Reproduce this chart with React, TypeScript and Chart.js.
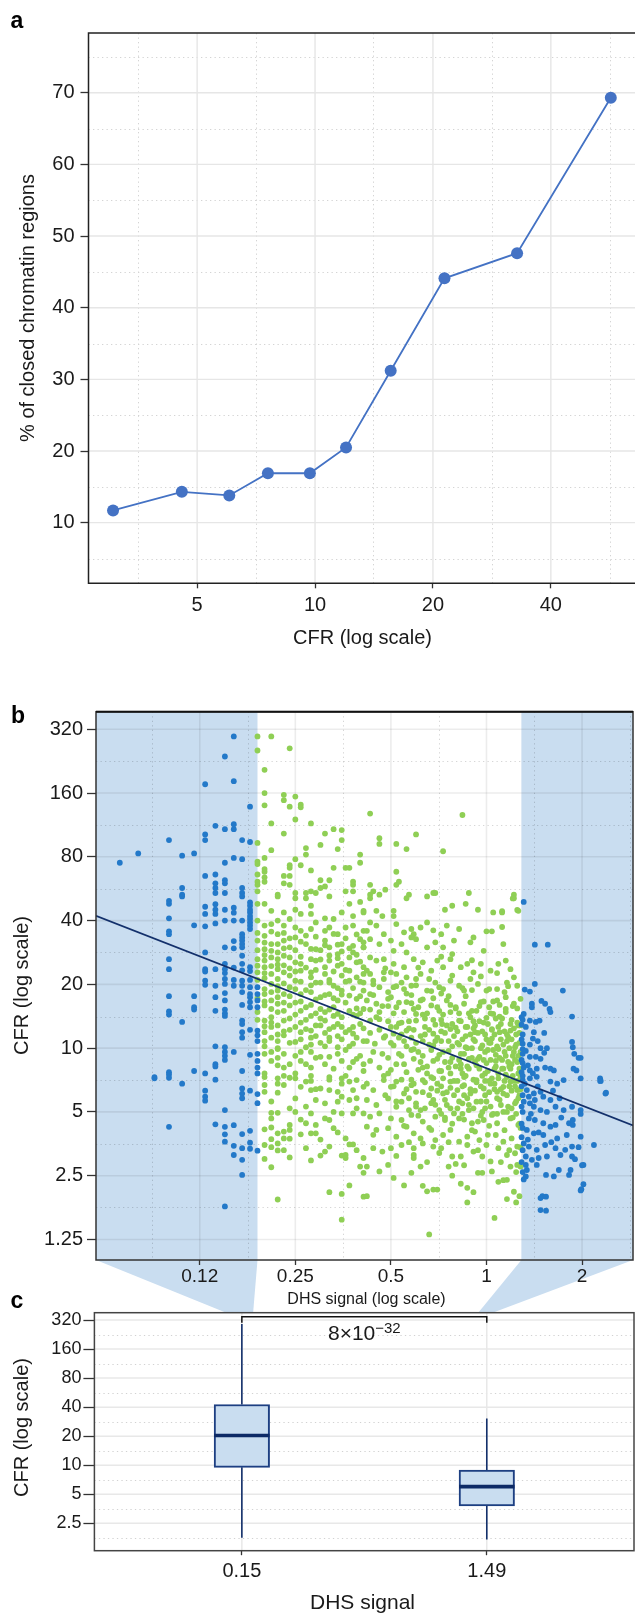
import React, { useEffect, useRef } from 'react';
import { Chart, registerables } from 'chart.js';
Chart.register(...registerables);

if (typeof document !== 'undefined') document.body.style.margin = '0';

const FONT = "'Liberation Sans', Arial, Helvetica, sans-serif";
const TXT = '#1a1a1a';
const NAVY = '#13306b';
const BLUE = '#2379c9';
const GREEN = '#8fcf55';
const SHADE = '#c9ddf0';

// ---------- Panel a ----------
const cfrBins = [3.05, 4.57, 6.04, 7.58, 9.7, 12.0, 15.6, 21.4, 32.8, 56.9];
const closedPct = [11.7, 14.3, 13.8, 16.9, 16.9, 20.5, 31.2, 44.1, 47.6, 69.3];
const aTicksX = [5, 10, 20, 40];
const aTicksY = [10, 20, 30, 40, 50, 60, 70];
const aMinorX = [3.54, 7.07, 14.1, 28.3, 56.6];
const aMinorY = [5, 15, 25, 35, 45, 55, 65, 75];
const aRangeX = [2.64, 65.6];
const aRangeY = [1.54, 78.33];

// ---------- Panel b ----------
const bTicksX = [0.125, 0.25, 0.5, 1, 2];
const bTickLabelsX = ['0.12', '0.25', '0.5', '1', '2'];
const bTicksY = [1.25, 2.5, 5, 10, 20, 40, 80, 160, 320];
const bMinorX = [0.0884, 0.177, 0.354, 0.707, 1.414, 2.83];
const bMinorY = [1.77, 3.54, 7.07, 14.1, 28.3, 56.6, 113, 226];
const bRangeX = [0.0589, 2.894];
const bRangeY = [1.0, 387.3];
const lowSignalMax = 0.19;
const highSignalMin = 1.288;
const fitLineDHS = [0.0589, 2.894];
const fitLineCFR = [42.1, 4.32];

const lowSignalPoints: [number, number][] = [
  [0.16, 296], [0.15, 238], [0.13, 176], [0.16, 182], [0.18, 138], [0.14, 112], [0.15, 108], [0.16, 114], [0.16, 108],
  [0.13, 102], [0.13, 96], [0.10, 96], [0.17, 96], [0.18, 94], [0.08, 83], [0.07, 75], [0.11, 81], [0.12, 83], [0.15, 75],
  [0.16, 79], [0.17, 78], [0.13, 65], [0.14, 66], [0.15, 62], [0.15, 60], [0.14, 60], [0.14, 57], [0.14, 54], [0.11, 57],
  [0.11, 53], [0.17, 57], [0.17, 54], [0.15, 54],
  [0.11, 52], [0.10, 49.6], [0.10, 48], [0.13, 46.5], [0.13, 43], [0.14, 47.8], [0.14, 45], [0.14, 43], [0.15, 45],
  [0.16, 46], [0.16, 43.6],
  [0.17, 52], [0.17, 40], [0.17, 34.5], [0.17, 33.3], [0.17, 32.2], [0.17, 31], [0.17, 29.9], [0.17, 27.3], [0.17, 25],
  [0.17, 23.3], [0.17, 20.8], [0.17, 19.7], [0.17, 18.4], [0.17, 16], [0.17, 13.5], [0.17, 13], [0.17, 11.9], [0.17, 11.2], [0.17, 7.8],
  [0.18, 48.7], [0.18, 47], [0.18, 45], [0.18, 43.7], [0.18, 42], [0.18, 40.7], [0.18, 39.2], [0.18, 37.9], [0.18, 36.5],
  [0.18, 24.1], [0.18, 23.1], [0.18, 21], [0.18, 19.4], [0.18, 18], [0.18, 17.4], [0.18, 16.5], [0.18, 15.6], [0.18, 12.2], [0.18, 9.3],
  [0.19, 19.4], [0.19, 18], [0.19, 16.8], [0.19, 15.6], [0.19, 12.1], [0.19, 11.5], [0.19, 10.8], [0.19, 9.4], [0.19, 8.7],
  [0.19, 8.1], [0.19, 7.6],
  [0.10, 41], [0.12, 38], [0.13, 37.6], [0.14, 38.8], [0.15, 40], [0.16, 40], [0.10, 35.6], [0.10, 34.5], [0.16, 32],
  [0.16, 29.6], [0.15, 29.9], [0.13, 28.3], [0.10, 26.3], [0.10, 23.6], [0.13, 23.6], [0.13, 23], [0.14, 23.6], [0.15, 25],
  [0.15, 23.6], [0.15, 22.6], [0.16, 24], [0.13, 20.8], [0.13, 19.9], [0.14, 19.7], [0.15, 21.2], [0.15, 20.1], [0.16, 21],
  [0.16, 19.7], [0.10, 17.6], [0.12, 17.6], [0.14, 17.4], [0.15, 18.2], [0.15, 16.8], [0.12, 15.6], [0.12, 15.2], [0.10, 14.9],
  [0.10, 14.4], [0.14, 15], [0.15, 15.2], [0.15, 14.6], [0.15, 14.2], [0.11, 13.3], [0.14, 10.2], [0.15, 10.1], [0.15, 9.6],
  [0.15, 9.2], [0.15, 8.8], [0.16, 9.6], [0.14, 8.4], [0.14, 8.2], [0.12, 7.8], [0.13, 7.6], [0.10, 7.7], [0.10, 7.5], [0.09, 7.3],
  [0.09, 7.2], [0.10, 7.25], [0.11, 6.8], [0.14, 7.1], [0.13, 6.3], [0.13, 5.9], [0.13, 5.65], [0.17, 6.45], [0.17, 6.1],
  [0.17, 5.8], [0.18, 6.3], [0.19, 6.07], [0.19, 5.5], [0.15, 5.1], [0.10, 4.25], [0.14, 4.37], [0.15, 4.25], [0.15, 3.92],
  [0.15, 3.62], [0.16, 4.33], [0.17, 3.93], [0.18, 4.07], [0.16, 3.46], [0.17, 3.37], [0.18, 3.58], [0.18, 3.35], [0.19, 3.28],
  [0.16, 3.13], [0.17, 2.97], [0.17, 2.52], [0.15, 1.79],
];

const highSignalPoints: [number, number][] = [
  [1.31, 49], [1.42, 30.8], [1.56, 30.8], [1.42, 20.1], [1.32, 18.9], [1.37, 18.5], [1.74, 18.7], [1.39, 16.2], [1.39, 15.6],
  [1.49, 16.7], [1.53, 16.2], [1.58, 15.3], [1.59, 14.8], [1.86, 14.1], [1.31, 14.5], [1.30, 13.6], [1.37, 13.5], [1.43, 13.3],
  [1.47, 13.5], [1.33, 12.6], [1.41, 11.9], [1.52, 11.8], [1.30, 10.5], [1.37, 10.4], [1.48, 10.0], [1.55, 10.0], [1.86, 10.7],
  [1.87, 10.1], [1.30, 9.4], [1.37, 9.1], [1.43, 9.1], [1.48, 8.9], [1.95, 9.0], [1.98, 9.0], [1.89, 9.4], [1.31, 8.1],
  [1.37, 7.85], [1.44, 8.0], [1.53, 8.1], [1.59, 8.0], [1.63, 7.85], [1.88, 8.0], [1.92, 7.85], [2.28, 7.2],
  [1.30, 7.07], [1.37, 7.2], [1.44, 7.32], [1.59, 6.95], [1.67, 6.8], [1.75, 7.07], [1.98, 7.2], [2.28, 7.0], [2.38, 6.16],
  [1.34, 6.34], [1.41, 6.11], [1.48, 6.22], [1.42, 5.69], [1.51, 5.9], [1.59, 5.69], [1.31, 5.59], [1.37, 5.49], [1.41, 5.29],
  [1.48, 5.1], [1.55, 5.0], [1.65, 5.29], [1.75, 5.1], [1.86, 5.29], [1.98, 5.1], [1.98, 4.89], [1.36, 4.66], [1.42, 4.58],
  [1.51, 4.42], [1.59, 4.26], [1.65, 4.34], [1.82, 4.42], [1.87, 4.58], [1.87, 4.34], [1.34, 4.11], [1.41, 3.96], [1.51, 3.89],
  [1.67, 3.75], [1.79, 3.89], [1.98, 3.82], [2.18, 3.49], [1.31, 3.55], [1.36, 3.43], [1.44, 3.31], [1.53, 3.49], [1.65, 3.37],
  [1.77, 3.31], [1.86, 3.43], [1.95, 3.41], [1.33, 3.08], [1.39, 2.97], [1.46, 3.03], [1.55, 3.08], [1.71, 3.13], [1.86, 3.08],
  [1.90, 2.99], [2.02, 2.81], [1.33, 2.81], [1.34, 2.66], [1.44, 2.81], [1.69, 2.66], [1.84, 2.66], [1.33, 2.48], [1.54, 2.52],
  [1.63, 2.48], [1.82, 2.52], [2.02, 2.28], [1.98, 2.13], [1.50, 2.0], [1.48, 1.96], [1.54, 1.71], [2.29, 7.0], [2.37, 6.1],
  [2.0, 2.8], [1.99, 2.16], [1.54, 1.99], [1.48, 1.72],
  [1.29, 14.0], [1.29, 12.9], [1.30, 11.6], [1.29, 11.0], [1.30, 9.9], [1.29, 8.8], [1.30, 8.5], [1.29, 7.7], [1.30, 7.4],
  [1.29, 6.6], [1.30, 6.0], [1.29, 5.3], [1.30, 5.0], [1.29, 4.4], [1.30, 4.2], [1.29, 3.8], [1.30, 3.3], [1.29, 2.9],
  [1.30, 2.6], [1.31, 2.4], [1.32, 6.8], [1.33, 9.7], [1.35, 8.3], [1.36, 5.9], [1.40, 7.6], [1.45, 6.6], [1.38, 4.9],
  [1.46, 4.0], [1.52, 9.5], [1.62, 6.3], [1.70, 5.8], [1.72, 4.7], [1.60, 3.6], [1.40, 11.1], [1.45, 10.8], [1.35, 3.7],
];

const midSignalUpper: [number, number][] = [
  [0.19, 296], [0.21, 296], [0.24, 260], [0.19, 254], [0.20, 206], [0.20, 160], [0.23, 157], [0.23, 148], [0.25, 154],
  [0.20, 140], [0.24, 138], [0.26, 141], [0.26, 137], [0.25, 120], [0.21, 115], [0.28, 115], [0.23, 103], [0.31, 103],
  [0.33, 108], [0.35, 107], [0.35, 96], [0.19, 93], [0.27, 88], [0.30, 91], [0.34, 87], [0.21, 86], [0.27, 82], [0.25, 78],
  [0.20, 79], [0.19, 76], [0.19, 74], [0.40, 82], [0.40, 75], [0.24, 73], [0.24, 71], [0.26, 73], [0.33, 71], [0.36, 71],
  [0.37, 71], [0.28, 69], [0.20, 70], [0.20, 68], [0.19, 66], [0.23, 65], [0.24, 65], [0.20, 64], [0.20, 61], [0.19, 61],
  [0.19, 59], [0.23, 60], [0.24, 59], [0.30, 62], [0.32, 62], [0.38, 61], [0.38, 59], [0.36, 55], [0.19, 55], [0.22, 53],
  [0.25, 54], [0.27, 54], [0.28, 55], [0.29, 54], [0.30, 57], [0.31, 58], [0.38, 55],
  [0.43, 128], [0.46, 98], [0.46, 92], [0.52, 92], [0.56, 87], [0.60, 102], [0.73, 85], [0.84, 126], [0.52, 68], [0.52, 59],
  [0.53, 61], [0.43, 59], [0.44, 55], [0.48, 56], [0.46, 53], [0.43, 53], [0.57, 53], [0.68, 54], [0.69, 54], [0.88, 54],
  [1.22, 53], [1.12, 44.3], [1.21, 50.9], [1.25, 44.9],
];

const midSignalLeft: [number, number][] = [
  [0.22, 52], [0.25, 51], [0.27, 51], [0.32, 52], [0.37, 48], [0.40, 49], [0.19, 48], [0.20, 48], [0.21, 44.5], [0.23, 43.7],
  [0.25, 45], [0.26, 43], [0.28, 43], [0.28, 47], [0.31, 41], [0.33, 40.7], [0.35, 43.7], [0.38, 42], [0.41, 43.7],
  [0.19, 40], [0.20, 37.9], [0.21, 38.5], [0.22, 40], [0.23, 37.9], [0.24, 40.7], [0.25, 37.1], [0.26, 35.8], [0.28, 36.5],
  [0.29, 39.2], [0.31, 35.8], [0.32, 37.1], [0.34, 34.5], [0.36, 37.1], [0.38, 37.9], [0.41, 35.8], [0.22, 34.5], [0.20, 33.9],
  [0.19, 32.2], [0.21, 31], [0.23, 32.2], [0.24, 29.9], [0.25, 33.3], [0.27, 31], [0.29, 29.3], [0.31, 32.2], [0.32, 29.9],
  [0.34, 27.8], [0.35, 31], [0.38, 28.3], [0.40, 32.7], [0.41, 29.9], [0.20, 29.3], [0.22, 28.3],
  [0.19, 26.3], [0.20, 25.9], [0.21, 26.8], [0.22, 26.3], [0.23, 27.3], [0.24, 26.8], [0.25, 25.4], [0.26, 25], [0.28, 26.3],
  [0.29, 25.9], [0.31, 24.1], [0.32, 25.9], [0.34, 24.5], [0.35, 25], [0.37, 26.8], [0.39, 25.4], [0.41, 24.1], [0.22, 23.6], [0.20, 24.1],
  [0.19, 22.8], [0.21, 22.4], [0.22, 21.2], [0.23, 22.8], [0.24, 22], [0.25, 20.8], [0.26, 23.2], [0.28, 21.6], [0.29, 20.4],
  [0.31, 22.4], [0.32, 20.4], [0.33, 19.7], [0.35, 22], [0.37, 20.8], [0.39, 21.6], [0.41, 22.4], [0.21, 20.1],
  [0.20, 19], [0.20, 18], [0.22, 18.7], [0.22, 17.4], [0.23, 18], [0.25, 19], [0.26, 18], [0.28, 18.4], [0.30, 17.4], [0.32, 18],
  [0.34, 16.8], [0.35, 18.7], [0.37, 17.7], [0.39, 17.1], [0.41, 18.7], [0.21, 16.8],
  [0.20, 15.9], [0.21, 15.3], [0.22, 16.2], [0.23, 15], [0.24, 15.9], [0.26, 15], [0.27, 15.6], [0.28, 14.2], [0.30, 15.3],
  [0.31, 14.8], [0.33, 15.6], [0.34, 14.5], [0.37, 15], [0.39, 14.2], [0.41, 15.3], [0.19, 14.8],
  [0.20, 13.5], [0.21, 12.6], [0.22, 12.8], [0.23, 13.5], [0.25, 12.6], [0.26, 13.2], [0.28, 12.1], [0.29, 12.8], [0.31, 13.5],
  [0.32, 12.3], [0.34, 13], [0.36, 11.9], [0.38, 12.6], [0.40, 13], [0.20, 11.9],
  [0.20, 10.8], [0.21, 11.2], [0.22, 10.8], [0.23, 11.5], [0.24, 10.6], [0.26, 11], [0.27, 10.1], [0.28, 11.2], [0.30, 10.6],
  [0.32, 10.8], [0.34, 10.1], [0.35, 11], [0.38, 10.5], [0.41, 10.8], [0.22, 9.9],
  [0.20, 9.4], [0.21, 8.7], [0.22, 9.0], [0.23, 8.1], [0.25, 9.2], [0.26, 8.7], [0.28, 8.1], [0.29, 9.0], [0.31, 8.4], [0.33, 8.0],
  [0.35, 8.7], [0.37, 8.1], [0.39, 8.9], [0.41, 8.4], [0.20, 7.6], [0.23, 7.4], [0.25, 7.6], [0.28, 7.4], [0.32, 7.3], [0.36, 7.4],
  [0.21, 14.0], [0.23, 12.0], [0.25, 16.4], [0.27, 13.6], [0.29, 17.0], [0.31, 11.8], [0.33, 14.2], [0.35, 17.9], [0.37, 12.2],
  [0.39, 15.4], [0.22, 10.0], [0.24, 8.4], [0.26, 11.9], [0.28, 9.6], [0.30, 12.8], [0.32, 9.1], [0.34, 11.4], [0.36, 9.8],
  [0.38, 11.7], [0.40, 9.2], [0.20, 21.4], [0.22, 24.8], [0.24, 19.4], [0.26, 27.0], [0.28, 22.8], [0.30, 29.0], [0.32, 21.0],
  [0.34, 26.6], [0.36, 23.4], [0.38, 30.4], [0.40, 20.6],
  [0.19, 35], [0.19, 29], [0.19, 24.5], [0.19, 21], [0.19, 17.2], [0.19, 13.6], [0.20, 31.5], [0.20, 27.5], [0.20, 22.6],
  [0.20, 16.6], [0.20, 12.7], [0.20, 10.2], [0.21, 35.5], [0.21, 28.8], [0.21, 24.4], [0.21, 18.4], [0.21, 13.2], [0.21, 9.6],
  [0.22, 31], [0.22, 19.6], [0.22, 14.8], [0.22, 11.6], [0.22, 8.3], [0.23, 35], [0.23, 29.6], [0.23, 24.6], [0.23, 20.2],
  [0.23, 16.4], [0.23, 9.4], [0.24, 33], [0.24, 23.8], [0.24, 17.6], [0.24, 13.8], [0.24, 12.2], [0.25, 29], [0.25, 23],
  [0.25, 14.4], [0.25, 10.7], [0.26, 31.8], [0.26, 20.6], [0.26, 16.6], [0.26, 9.6], [0.27, 34], [0.27, 24], [0.27, 18.8],
  [0.27, 12.3], [0.27, 8.4], [0.28, 29.4], [0.28, 19.8], [0.28, 16], [0.28, 10.4], [0.29, 33.6], [0.29, 23.4], [0.29, 14.6],
  [0.29, 11.4], [0.30, 26.2], [0.30, 20.4], [0.30, 13.8], [0.30, 9.1], [0.31, 30.6], [0.31, 17.8], [0.31, 10.2], [0.32, 27.4],
  [0.32, 15.2], [0.32, 11.2], [0.33, 34.6], [0.33, 23], [0.33, 17.2], [0.33, 12.6], [0.34, 30.8], [0.34, 19.2], [0.34, 9.4],
  [0.35, 28.6], [0.35, 14.0], [0.35, 12.6], [0.36, 33], [0.36, 20.6], [0.36, 16.4], [0.37, 29.6], [0.37, 23.2], [0.37, 10.2],
  [0.38, 19.2], [0.38, 14.4], [0.38, 8.6], [0.39, 34.4], [0.39, 27.6], [0.39, 11.2], [0.40, 25.6], [0.40, 17.6], [0.40, 14.6],
  [0.41, 31.6], [0.41, 20.4], [0.41, 12.4],
];

const midSignalRight: [number, number][] = [
  [0.41, 44.5], [0.43, 51], [0.45, 44.5], [0.51, 44.5], [0.51, 42], [0.56, 51], [0.65, 52], [0.74, 45], [0.78, 47], [0.86, 48],
  [0.94, 45], [1.05, 43.7], [1.12, 43.7], [1.22, 51], [1.26, 44.5], [0.47, 42], [0.43, 39.2], [0.45, 37.9], [0.52, 38.5],
  [0.58, 36.5], [0.62, 37.1], [0.65, 39.2], [0.68, 36], [0.75, 37.9], [0.82, 36.5], [1.00, 35.6], [1.04, 35.6], [1.12, 37.3],
  [0.42, 35.8], [0.475, 34.5], [0.55, 35.2], [0.59, 34.5], [0.72, 34.5], [0.43, 32.7], [0.46, 31], [0.50, 32.2], [0.54, 31],
  [0.58, 33.3], [0.60, 32.7], [0.65, 29.9], [0.69, 31.6], [0.73, 29.9], [0.79, 32.2], [0.89, 31.6], [0.91, 33.3], [0.98, 28.8],
  [1.13, 31], [0.41, 29.9], [0.51, 28.8], [0.56, 28.3], [0.78, 27.8], [0.43, 26.8], [0.45, 25.9], [0.475, 26.3], [0.51, 25],
  [0.55, 24.1], [0.59, 26.3], [0.63, 25.4], [0.67, 23.2], [0.70, 25.9], [0.73, 24.1], [0.77, 26.3], [0.83, 24.1], [0.87, 25],
  [0.91, 22.8], [0.96, 25], [1.03, 23.2], [1.09, 25], [1.15, 25.9], [1.19, 23.6], [0.42, 23.2], [0.475, 22.8], [0.52, 22.4],
  [0.62, 22.4], [0.44, 20.8], [0.475, 21.2], [0.51, 19.4], [0.54, 20.4], [0.58, 19.7], [0.60, 21.2], [0.65, 18.7], [0.69, 20.4],
  [0.73, 19], [0.77, 20.8], [0.82, 19.7], [0.85, 18.7], [0.89, 21.2], [0.94, 20.1], [1.00, 18.7], [1.08, 19], [1.16, 20.4],
  [1.25, 19.7], [0.43, 18], [0.49, 18.4], [0.56, 18.1], [0.72, 18.1], [0.42, 16.8], [0.45, 16.2], [0.49, 17.1], [0.52, 15.6],
  [0.56, 16.5], [0.59, 15.3], [0.62, 16.8], [0.67, 15.9], [0.71, 15], [0.75, 16.8], [0.80, 15.6], [0.85, 16.2], [0.90, 15],
  [0.96, 16.5], [1.02, 15.6], [1.08, 16.8], [1.15, 15.3], [1.22, 16.2], [1.28, 17.1], [0.46, 14.8], [0.60, 14.5], [0.77, 14.8],
  [1.05, 14.5], [0.43, 13.5], [0.46, 13.7], [0.50, 12.6], [0.54, 13.2], [0.56, 12.1], [0.60, 13.5], [0.64, 12.6], [0.68, 11.7],
  [0.725, 13], [0.77, 12.3], [0.82, 13.5], [0.87, 12.6], [0.92, 11.9], [0.98, 13.2], [1.04, 12.3], [1.11, 13], [1.19, 12.1],
  [1.26, 12.8], [0.51, 11.7], [0.89, 14], [0.42, 10.8], [0.445, 10.5], [0.475, 11.2], [0.51, 10.3], [0.55, 10.8], [0.59, 9.9],
  [0.63, 10.8], [0.68, 10.3], [0.72, 10.8], [0.76, 9.7], [0.81, 10.6], [0.86, 10.1], [0.91, 11], [0.97, 10.3], [1.03, 10.6],
  [1.09, 9.9], [1.16, 10.8], [1.23, 10.1], [1.28, 9.6], [0.58, 11.2], [0.43, 8.7], [0.46, 8.1], [0.49, 9.0], [0.52, 8.4],
  [0.56, 7.7], [0.59, 8.9], [0.63, 8.1], [0.68, 8.7], [0.72, 7.8], [0.77, 8.6], [0.83, 8.0], [0.88, 8.9], [0.93, 8.3], [0.99, 7.6],
  [1.07, 8.7], [1.13, 8.0], [1.20, 8.4], [1.26, 7.6], [0.475, 7.4], [0.67, 7.3], [0.85, 7.3], [1.16, 7.3],
];

const midSignalLower: [number, number][] = [
  [0.20, 7.3], [0.22, 7.2], [0.24, 7.25], [0.25, 7.2], [0.27, 6.95], [0.28, 7.0], [0.32, 7.1], [0.35, 7.2], [0.37, 6.95],
  [0.39, 7.07], [0.20, 6.7], [0.22, 6.8], [0.26, 6.57], [0.28, 6.34], [0.30, 6.45], [0.32, 6.34], [0.34, 6.22], [0.35, 5.9],
  [0.38, 6.34], [0.41, 6.57], [0.20, 6.22], [0.22, 6.16], [0.25, 5.79], [0.29, 5.69], [0.31, 5.49], [0.34, 5.59], [0.37, 5.69],
  [0.39, 5.2], [0.38, 4.92], [0.35, 4.92], [0.41, 4.92], [0.21, 4.95], [0.22, 4.95], [0.24, 5.2], [0.25, 5.0], [0.28, 4.92],
  [0.21, 4.66], [0.27, 4.42], [0.29, 4.34], [0.31, 4.66], [0.32, 4.58], [0.33, 4.19], [0.24, 4.34], [0.23, 4.04], [0.22, 3.96],
  [0.24, 4.11], [0.20, 4.14], [0.21, 4.22], [0.26, 3.92], [0.28, 3.96], [0.29, 3.96], [0.23, 3.75], [0.24, 3.74], [0.36, 3.75],
  [0.37, 3.51], [0.38, 3.51], [0.21, 3.72], [0.20, 3.49], [0.22, 3.55], [0.21, 3.41], [0.22, 3.29], [0.27, 3.37], [0.30, 3.11],
  [0.31, 3.25], [0.32, 3.43], [0.35, 3.11], [0.36, 3.13], [0.36, 3.03], [0.24, 3.05], [0.28, 2.95], [0.41, 3.03], [0.40, 2.76],
  [0.21, 2.74], [0.32, 2.09], [0.35, 2.05], [0.37, 2.25], [0.41, 1.99], [0.22, 1.93], [0.35, 1.55],
  [0.42, 6.8], [0.44, 6.34], [0.475, 7.07], [0.50, 6.57], [0.52, 6.95], [0.55, 6.11], [0.58, 6.69], [0.60, 6.22], [0.63, 7.07],
  [0.67, 6.45], [0.70, 6.8], [0.73, 6.11], [0.77, 6.95], [0.81, 6.34], [0.85, 6.69], [0.89, 6.11], [0.93, 7.07], [0.98, 6.45],
  [1.03, 6.8], [1.08, 6.22], [1.13, 6.57], [1.19, 6.95], [1.25, 6.34], [0.42, 5.69], [0.45, 5.39], [0.49, 5.79], [0.52, 5.29],
  [0.54, 5.59], [0.57, 5.10], [0.60, 5.49], [0.64, 5.2], [0.68, 5.69], [0.71, 5.10], [0.75, 5.39], [0.79, 4.92], [0.84, 5.49],
  [0.88, 5.10], [0.93, 5.59], [0.99, 5.2], [1.04, 4.84], [1.11, 5.39], [1.16, 5.0], [1.23, 5.49], [0.43, 4.75], [0.46, 4.92],
  [0.50, 4.66], [0.54, 4.58], [0.58, 4.84], [0.63, 4.5], [0.69, 4.75], [0.74, 4.58], [0.82, 4.66], [0.90, 4.42], [0.98, 4.58],
  [1.08, 4.42], [1.19, 4.66], [1.26, 4.34], [0.42, 4.26], [0.45, 4.11], [0.49, 4.19], [0.52, 3.82], [0.56, 4.26], [0.59, 3.96],
  [0.62, 3.75], [0.67, 4.11], [0.69, 3.68], [0.73, 3.89], [0.77, 4.11], [0.82, 3.62], [0.87, 3.82], [0.92, 4.04], [0.95, 3.68],
  [1.00, 3.49], [1.07, 3.89], [1.13, 3.62], [1.20, 3.75], [1.25, 3.43], [0.44, 3.37], [0.47, 3.25], [0.50, 3.37], [0.54, 3.49],
  [0.59, 3.37], [0.63, 3.55], [0.68, 3.43], [0.72, 3.37], [0.78, 3.08], [0.83, 3.08], [0.87, 3.49], [0.91, 3.25], [0.97, 3.08],
  [1.03, 2.92], [1.09, 3.37], [1.16, 3.13], [1.23, 3.19], [0.42, 2.76], [0.46, 2.62], [0.49, 2.81], [0.51, 2.44], [0.55, 2.25],
  [0.58, 2.58], [0.59, 3.13], [0.59, 3.03], [0.62, 2.76], [0.63, 2.24], [0.65, 2.11], [0.68, 2.15], [0.70, 2.15], [0.76, 2.76],
  [0.78, 2.5], [0.80, 2.84], [0.83, 2.29], [0.87, 2.19], [0.91, 2.09], [0.94, 2.58], [0.97, 2.58], [1.04, 2.62], [1.09, 2.34],
  [1.13, 2.38], [1.16, 2.39], [1.19, 2.76], [1.25, 2.81], [1.28, 2.76], [0.42, 2.0], [0.41, 2.58], [0.87, 1.87], [1.16, 1.94],
  [1.24, 1.87], [1.06, 1.58], [0.66, 1.32], [1.27, 2.0], [1.22, 2.1],
  [0.20, 3.0], [0.23, 3.3], [0.26, 4.6], [0.30, 3.7], [0.34, 4.0], [0.39, 3.3], [0.44, 3.9], [0.52, 3.1], [0.57, 3.6],
  [0.65, 2.9], [0.71, 3.2], [0.76, 3.6], [0.85, 2.8], [0.94, 3.3], [1.01, 3.9], [1.11, 2.9], [1.18, 3.3], [1.24, 2.6],
];

const midSignalCore: [number, number][] = [
  [0.53, 11.2], [0.57, 12.4], [0.61, 9.6], [0.64, 13.8], [0.66, 10.4], [0.69, 12.9], [0.71, 9.3], [0.74, 11.8], [0.78, 10.2],
  [0.80, 12.5], [0.83, 9.4], [0.86, 11.4], [0.90, 10.0], [0.92, 12.8], [0.95, 9.1], [0.99, 11.6], [1.01, 9.8], [1.04, 11.1],
  [1.07, 9.3], [1.10, 11.9], [1.14, 9.6], [1.17, 11.3], [1.21, 9.2], [1.24, 11.6], [1.27, 10.6],
  [0.50, 7.9], [0.54, 9.2], [0.58, 7.1], [0.62, 8.6], [0.65, 7.6], [0.70, 8.9], [0.73, 7.2], [0.76, 8.1], [0.79, 7.0],
  [0.82, 8.8], [0.84, 7.6], [0.87, 8.2], [0.91, 7.1], [0.94, 8.9], [0.97, 7.4], [1.00, 8.5], [1.02, 7.0], [1.06, 8.0],
  [1.09, 7.2], [1.12, 8.8], [1.15, 7.5], [1.18, 8.2], [1.22, 7.0], [1.25, 8.6], [1.28, 7.3],
  [0.48, 6.0], [0.52, 5.6], [0.56, 6.4], [0.60, 5.3], [0.63, 6.2], [0.67, 5.5], [0.70, 6.3], [0.74, 5.7], [0.77, 6.5],
  [0.81, 5.2], [0.85, 6.0], [0.88, 5.4], [0.92, 6.3], [0.96, 5.6], [0.99, 6.0], [1.03, 5.3], [1.06, 6.4], [1.10, 5.7],
  [1.13, 6.1], [1.17, 5.3], [1.20, 6.3], [1.24, 5.6], [1.27, 6.0],
  [0.55, 4.3], [0.61, 4.8], [0.66, 4.2], [0.72, 4.9], [0.78, 4.4], [0.84, 4.9], [0.90, 4.1], [0.96, 4.8], [1.02, 4.3],
  [1.08, 4.9], [1.14, 4.1], [1.21, 4.7], [1.27, 4.4],
  [0.45, 14.0], [0.49, 15.8], [0.53, 13.1], [0.58, 16.3], [0.63, 14.4], [0.68, 17.2], [0.72, 13.6], [0.77, 16.0], [0.82, 14.6],
  [0.86, 17.6], [0.91, 13.4], [0.95, 15.8], [1.00, 13.9], [1.05, 16.6], [1.10, 14.1], [1.15, 17.4], [1.20, 13.6], [1.25, 15.4],
  [0.44, 20.0], [0.50, 22.8], [0.55, 19.0], [0.61, 24.0], [0.66, 21.2], [0.72, 27.0], [0.78, 22.0], [0.84, 19.2], [0.90, 26.0],
  [0.96, 21.8], [1.02, 19.0], [1.08, 22.6], [1.14, 18.4], [1.22, 21.6],
  [0.21, 5.6], [0.23, 6.7], [0.27, 5.3], [0.29, 6.4], [0.33, 5.0], [0.35, 6.8], [0.39, 5.8], [0.41, 7.8],
  [0.43, 22.4], [0.43, 15.2], [0.43, 11.8], [0.44, 9.6], [0.44, 17.8], [0.46, 19.4], [0.46, 12.2], [0.47, 9.4], [0.47, 15.8],
  [0.48, 23.8], [0.48, 11.4], [0.49, 13.4], [0.49, 7.6], [0.50, 17.4], [0.50, 10.6], [0.51, 14.6], [0.51, 6.6], [0.52, 19.6],
  [0.52, 12.6], [0.53, 9.4], [0.53, 16.4], [0.54, 7.1], [0.54, 11.6], [0.55, 14.8], [0.55, 8.4], [0.56, 21.6], [0.56, 10.2],
  [0.57, 13.4], [0.57, 5.8], [0.58, 9.8], [0.58, 17.8], [0.59, 12.2], [0.59, 6.8], [0.60, 10.6], [0.60, 19.8], [0.61, 15.6],
  [0.61, 7.9], [0.62, 11.4], [0.62, 5.1], [0.63, 17.0], [0.63, 9.2], [0.64, 6.9], [0.64, 11.6], [0.65, 14.6], [0.65, 8.2],
  [0.66, 12.2], [0.66, 6.0], [0.67, 18.6], [0.67, 9.8], [0.68, 13.6], [0.68, 7.2], [0.69, 10.8], [0.69, 5.4], [0.70, 15.6],
  [0.70, 11.2], [0.71, 7.8], [0.71, 19.4], [0.72, 12.0], [0.72, 6.6], [0.73, 9.6], [0.73, 14.4], [0.74, 8.6], [0.74, 4.7],
  [0.75, 12.8], [0.75, 6.2], [0.76, 10.8], [0.76, 17.6], [0.77, 7.6], [0.77, 5.2], [0.78, 13.0], [0.78, 9.0], [0.79, 11.4],
  [0.79, 6.0], [0.80, 8.2], [0.80, 15.4], [0.81, 12.0], [0.81, 7.0], [0.82, 10.4], [0.82, 5.6], [0.83, 13.4], [0.83, 8.4],
  [0.84, 11.0], [0.84, 6.6], [0.85, 9.4], [0.85, 4.6], [0.86, 12.6], [0.86, 7.4], [0.87, 10.0], [0.87, 5.8], [0.88, 14.6],
  [0.88, 8.0], [0.89, 11.6], [0.89, 6.4], [0.90, 9.0], [0.90, 18.8], [0.91, 12.4], [0.91, 5.2], [0.92, 8.6], [0.92, 10.8],
  [0.93, 6.9], [0.93, 15.0], [0.94, 11.8], [0.94, 4.5], [0.95, 8.0], [0.95, 13.4], [0.96, 10.0], [0.96, 6.6], [0.97, 12.0],
  [0.97, 5.0], [0.98, 8.8], [0.98, 16.6], [0.99, 9.6], [0.99, 7.0], [1.00, 11.0], [1.00, 5.6], [1.01, 13.0], [1.01, 7.8],
  [1.02, 10.6], [1.02, 6.2], [1.03, 8.8], [1.03, 14.6], [1.04, 7.2], [1.04, 12.2], [1.05, 9.8], [1.05, 4.9], [1.06, 11.6],
  [1.06, 6.8], [1.07, 13.8], [1.07, 8.2], [1.08, 10.2], [1.08, 5.8], [1.09, 12.6], [1.09, 7.6], [1.10, 9.0], [1.10, 16.0],
  [1.11, 6.4], [1.11, 11.0], [1.12, 8.0], [1.12, 13.8], [1.13, 10.4], [1.13, 5.0], [1.14, 12.0], [1.14, 7.0], [1.15, 9.2],
  [1.15, 14.8], [1.16, 6.0], [1.16, 11.6], [1.17, 8.6], [1.17, 19.6], [1.18, 10.0], [1.18, 6.6], [1.19, 13.0], [1.19, 8.0],
  [1.20, 11.0], [1.20, 5.2], [1.21, 7.4], [1.21, 15.8], [1.22, 9.6], [1.22, 12.4], [1.23, 6.6], [1.23, 8.8], [1.24, 10.4],
  [1.24, 4.9], [1.25, 13.2], [1.25, 7.0], [1.26, 9.2], [1.26, 5.8], [1.27, 11.8], [1.27, 8.0], [1.28, 6.4], [1.28, 12.8],
  [1.28, 4.2], [1.28, 3.4],
];

// ---------- Panel c ----------
const boxLabels = ['0.15', '1.49'];
const boxWhiskerLow = [1.77, 1.7];
const boxQ1 = [9.5, 3.78];
const boxMedian = [20.3, 6.0];
const boxQ3 = [42.6, 8.9];
const boxWhiskerHigh = [291, 30.5];
const cTicksY = [2.5, 5, 10, 20, 40, 80, 160, 320];
const cMinorY = [1.77, 3.54, 7.07, 14.1, 28.3, 56.6, 113, 226];
const cRangeY = [1.3, 381];
const cRangeX = [0.398, 2.601];
const pValueBase = '8\u00d710';
const pValueExp = '\u221232';

function gridPlugin(id: string, xMaj: number[], xMin: number[], yMaj: number[], yMin: number[], major: string, minor: string, majorWidth: number) {
  return {
    id,
    beforeDatasetsDraw(chart: any) {
      const { ctx, chartArea: a, scales } = chart;
      const xs = scales.x, ys = scales.y;
      ctx.save();
      ctx.beginPath();
      ctx.rect(a.left, a.top, a.right - a.left, a.bottom - a.top);
      ctx.clip();
      ctx.lineWidth = 1;
      ctx.strokeStyle = minor;
      ctx.setLineDash([1.3, 3.2]);
      for (const v of xMin) {
        const p = Math.round(xs.getPixelForValue(v)) + 0.5;
        ctx.beginPath(); ctx.moveTo(p, a.top); ctx.lineTo(p, a.bottom); ctx.stroke();
      }
      for (const v of yMin) {
        const p = Math.round(ys.getPixelForValue(v)) + 0.5;
        ctx.beginPath(); ctx.moveTo(a.left, p); ctx.lineTo(a.right, p); ctx.stroke();
      }
      ctx.setLineDash([]);
      ctx.strokeStyle = major;
      ctx.lineWidth = majorWidth;
      for (const v of xMaj) {
        const p = xs.getPixelForValue(v);
        ctx.beginPath(); ctx.moveTo(p, a.top); ctx.lineTo(p, a.bottom); ctx.stroke();
      }
      for (const v of yMaj) {
        const p = ys.getPixelForValue(v);
        ctx.beginPath(); ctx.moveTo(a.left, p); ctx.lineTo(a.right, p); ctx.stroke();
      }
      ctx.restore();
    },
  };
}

function drawText(ctx: CanvasRenderingContext2D, text: string, x: number, y: number, size: number, opts: { rotate?: boolean; bold?: boolean; align?: CanvasTextAlign } = {}) {
  ctx.save();
  ctx.font = `${opts.bold ? 'bold ' : ''}${size}px ${FONT}`;
  ctx.fillStyle = opts.bold ? '#000' : TXT;
  ctx.textAlign = opts.align || 'center';
  ctx.textBaseline = 'middle';
  ctx.translate(x, y);
  if (opts.rotate) ctx.rotate(-Math.PI / 2);
  ctx.fillText(text, 0, 0);
  ctx.restore();
}

function tickFont(size: number) {
  return { family: FONT, size };
}

function makeA(canvas: HTMLCanvasElement) {
  const H = 660;
  return new Chart(canvas, {
    type: 'line',
    data: {
      datasets: [{
        data: cfrBins.map((x, i) => ({ x, y: closedPct[i] })),
        borderColor: '#4472c4',
        backgroundColor: '#4472c4',
        pointBackgroundColor: '#4472c4',
        pointBorderWidth: 0,
        pointRadius: 6,
        borderWidth: 1.8,
        tension: 0,
      }],
    },
    options: {
      animation: false, responsive: false, devicePixelRatio: 1, events: [],
      layout: { autoPadding: false, padding: { left: 0, right: 0, top: 33, bottom: 0 } },
      plugins: { legend: { display: false }, tooltip: { enabled: false } },
      scales: {
        x: {
          type: 'logarithmic', min: aRangeX[0], max: aRangeX[1],
          afterBuildTicks: (s: any) => { s.ticks = aTicksX.map((v) => ({ value: v })); },
          afterFit: (s: any) => { s.height = H - 583.3; },
          ticks: { callback: (v: any) => String(v), font: tickFont(20), color: TXT, padding: 5.5, maxRotation: 0, autoSkip: false },
          grid: { drawOnChartArea: false, drawTicks: true, tickLength: 5, tickColor: '#333', tickWidth: 1.3 },
          border: { display: false },
        },
        y: {
          type: 'linear', min: aRangeY[0], max: aRangeY[1],
          afterBuildTicks: (s: any) => { s.ticks = aTicksY.map((v) => ({ value: v })); },
          afterFit: (s: any) => { s.width = 88.5; },
          ticks: { callback: (v: any) => String(v), font: tickFont(20), color: TXT, padding: 6, autoSkip: false },
          grid: { drawOnChartArea: false, drawTicks: true, tickLength: 8, tickColor: '#333', tickWidth: 1.3 },
          border: { display: false },
        },
      },
    } as any,
    plugins: [
      gridPlugin('gridA', aTicksX, aMinorX, aTicksY, aMinorY, '#e6e6e6', '#d4d4d4', 1.4),
      {
        id: 'frameA',
        afterDraw(chart: any) {
          const { ctx, chartArea: a } = chart;
          ctx.save();
          ctx.lineWidth = 1.5;
          ctx.strokeStyle = '#222';
          ctx.beginPath();
          ctx.moveTo(a.right + 2, a.top); ctx.lineTo(a.left, a.top); ctx.lineTo(a.left, a.bottom); ctx.lineTo(a.right + 2, a.bottom);
          ctx.stroke();
          ctx.restore();
          drawText(ctx, '% of closed chromatin regions', 28.4, 308, 20, { rotate: true });
          drawText(ctx, 'CFR (log scale)', 362.5, 638, 20);
          drawText(ctx, 'a', 17, 22, 23, { bold: true });
        },
      },
    ],
  });
}

function makeB(canvas: HTMLCanvasElement) {
  const H = 623;
  const wedgeLeftBottom = [226.8, 253.1];
  const wedgeRightBottom = [478, 492];
  const mid = [...midSignalUpper, ...midSignalLeft, ...midSignalRight, ...midSignalLower, ...midSignalCore];
  const pt = (arr: [number, number][]) => arr.map(([x, y]) => ({ x, y }));
  const R = 2.9;
  return new Chart(canvas, {
    type: 'scatter',
    data: {
      datasets: [
        { data: fitLineDHS.map((x, i) => ({ x, y: fitLineCFR[i] })), showLine: true, borderColor: NAVY, borderWidth: 1.8, pointRadius: 0, order: 0 },
        { data: pt(lowSignalPoints), pointRadius: R, pointBorderWidth: 0, backgroundColor: BLUE, pointBackgroundColor: BLUE, order: 1 },
        { data: pt(highSignalPoints), pointRadius: R, pointBorderWidth: 0, backgroundColor: BLUE, pointBackgroundColor: BLUE, order: 1 },
        { data: pt(mid), pointRadius: R, pointBorderWidth: 0, backgroundColor: GREEN, pointBackgroundColor: GREEN, order: 2 },
      ],
    },
    options: {
      animation: false, responsive: false, devicePixelRatio: 1, events: [],
      layout: { autoPadding: false, padding: { left: 0, right: 2, top: 21.7, bottom: 0 } },
      plugins: { legend: { display: false }, tooltip: { enabled: false } },
      scales: {
        x: {
          type: 'logarithmic', min: bRangeX[0], max: bRangeX[1],
          afterBuildTicks: (s: any) => { s.ticks = bTicksX.map((v) => ({ value: v })); },
          afterFit: (s: any) => { s.height = H - 570; },
          ticks: { callback: (v: any, i: number) => bTickLabelsX[i], font: tickFont(19), color: TXT, padding: 0.5, maxRotation: 0, autoSkip: false },
          grid: { drawOnChartArea: false, drawTicks: true, tickLength: 5, tickColor: '#333', tickWidth: 1.3 },
          border: { display: false },
        },
        y: {
          type: 'logarithmic', min: bRangeY[0], max: bRangeY[1],
          afterBuildTicks: (s: any) => { s.ticks = bTicksY.map((v) => ({ value: v })); },
          afterFit: (s: any) => { s.width = 96; },
          ticks: { callback: (v: any) => String(v), font: tickFont(20), color: TXT, padding: 4, autoSkip: false },
          grid: { drawOnChartArea: false, drawTicks: true, tickLength: 9, tickColor: '#333', tickWidth: 1.3 },
          border: { display: false },
        },
      },
    } as any,
    plugins: [
      {
        id: 'shadeB',
        beforeDraw(chart: any) {
          const { ctx, chartArea: a, scales } = chart;
          const xs = scales.x;
          const xl = xs.getPixelForValue(lowSignalMax);
          const xh = xs.getPixelForValue(highSignalMin);
          ctx.save();
          ctx.fillStyle = SHADE;
          ctx.fillRect(a.left, a.top, xl - a.left, a.bottom - a.top);
          ctx.fillRect(xh, a.top, a.right - xh, a.bottom - a.top);
          ctx.beginPath();
          ctx.moveTo(a.left, a.bottom); ctx.lineTo(xl, a.bottom);
          ctx.lineTo(wedgeLeftBottom[1], H); ctx.lineTo(wedgeLeftBottom[0], H); ctx.closePath();
          ctx.fill();
          ctx.beginPath();
          ctx.moveTo(xh, a.bottom); ctx.lineTo(a.right, a.bottom);
          ctx.lineTo(wedgeRightBottom[1], H); ctx.lineTo(wedgeRightBottom[0], H); ctx.closePath();
          ctx.fill();
          ctx.restore();
        },
      },
      gridPlugin('gridB', bTicksX, bMinorX, bTicksY, bMinorY, 'rgba(0,0,0,0.075)', 'rgba(0,0,0,0.16)', 1.6),
      {
        id: 'frameB',
        afterDraw(chart: any) {
          const { ctx, chartArea: a } = chart;
          ctx.save();
          ctx.lineWidth = 1.5;
          ctx.strokeStyle = '#333';
          ctx.strokeRect(a.left, a.top, a.right - a.left, a.bottom - a.top);
          ctx.lineWidth = 2;
          ctx.strokeStyle = '#111';
          ctx.beginPath(); ctx.moveTo(a.left, a.top); ctx.lineTo(a.right, a.top); ctx.stroke();
          ctx.restore();
          drawText(ctx, 'CFR (log scale)', 22.3, 295.5, 20, { rotate: true });
          drawText(ctx, 'DHS signal (log scale)', 366.5, 610, 16);
          drawText(ctx, 'b', 18, 27, 23, { bold: true });
        },
      },
    ],
  });
}

function makeC(canvas: HTMLCanvasElement) {
  const H = 324;
  return new Chart(canvas, {
    type: 'bar',
    data: {
      datasets: [{
        data: boxQ1.map((q1, i) => ({ x: i + 1, y: [q1, boxQ3[i]] })),
        backgroundColor: SHADE,
        borderColor: '#1d3f82',
        borderWidth: 2,
        borderSkipped: false,
        barThickness: 55.5,
      }],
    },
    options: {
      animation: false, responsive: false, devicePixelRatio: 1, events: [],
      layout: { autoPadding: false, padding: { left: 0, right: 1, top: 22.7, bottom: 0 } },
      plugins: { legend: { display: false }, tooltip: { enabled: false } },
      scales: {
        x: {
          type: 'linear', min: cRangeX[0], max: cRangeX[1], offset: false,
          afterBuildTicks: (s: any) => { s.ticks = boxLabels.map((_, i) => ({ value: i + 1 })); },
          afterFit: (s: any) => { s.height = H - 260.7; },
          ticks: { callback: (v: any) => boxLabels[Math.round(v) - 1], font: tickFont(20), color: TXT, padding: 4.5, maxRotation: 0, autoSkip: false },
          grid: { offset: false, drawOnChartArea: false, drawTicks: true, tickLength: 4.5, tickColor: '#333', tickWidth: 1.3 },
          border: { display: false },
        },
        y: {
          type: 'logarithmic', min: cRangeY[0], max: cRangeY[1],
          afterBuildTicks: (s: any) => { s.ticks = cTicksY.map((v) => ({ value: v })); },
          afterFit: (s: any) => { s.width = 94.4; },
          ticks: { callback: (v: any) => String(v), font: tickFont(18), color: TXT, padding: 2, autoSkip: false },
          grid: { drawOnChartArea: false, drawTicks: true, tickLength: 11, tickColor: '#333', tickWidth: 1.3 },
          border: { display: false },
        },
      },
    } as any,
    plugins: [
      gridPlugin('gridC', [1, 2], [], cTicksY, cMinorY, '#e8e8e8', '#d2d2d2', 1.5),
      {
        id: 'whiskersC',
        beforeDatasetsDraw(chart: any) {
          const { ctx, scales } = chart;
          const xs = scales.x, ys = scales.y;
          ctx.save();
          ctx.strokeStyle = NAVY;
          ctx.lineWidth = 1.6;
          boxQ1.forEach((q1, i) => {
            const xp = xs.getPixelForValue(i + 1);
            ctx.beginPath();
            ctx.moveTo(xp, ys.getPixelForValue(boxWhiskerHigh[i])); ctx.lineTo(xp, ys.getPixelForValue(boxQ3[i]));
            ctx.moveTo(xp, ys.getPixelForValue(q1)); ctx.lineTo(xp, ys.getPixelForValue(boxWhiskerLow[i]));
            ctx.stroke();
          });
          ctx.restore();
        },
        afterDatasetsDraw(chart: any) {
          const { ctx, scales } = chart;
          const xs = scales.x, ys = scales.y;
          const meta = chart.getDatasetMeta(0);
          ctx.save();
          ctx.strokeStyle = '#0d2a66';
          ctx.lineWidth = 3.6;
          boxMedian.forEach((m, i) => {
            const xp = xs.getPixelForValue(i + 1);
            const w = meta.data[i] ? meta.data[i].width : 55.5;
            const yp = ys.getPixelForValue(m);
            ctx.beginPath(); ctx.moveTo(xp - w / 2, yp); ctx.lineTo(xp + w / 2, yp); ctx.stroke();
          });
          ctx.restore();
        },
      },
      {
        id: 'frameC',
        afterDraw(chart: any) {
          const { ctx, chartArea: a, scales } = chart;
          const xs = scales.x;
          ctx.save();
          ctx.lineWidth = 1.5;
          ctx.strokeStyle = '#444';
          ctx.strokeRect(a.left, a.top, a.right - a.left, a.bottom - a.top);
          const x1 = xs.getPixelForValue(1), x2 = xs.getPixelForValue(2);
          ctx.strokeStyle = '#111';
          ctx.lineWidth = 1.5;
          ctx.beginPath();
          ctx.moveTo(x1, a.top + 10); ctx.lineTo(x1, a.top + 4); ctx.lineTo(x2, a.top + 4); ctx.lineTo(x2, a.top + 10);
          ctx.stroke();
          ctx.fillStyle = TXT;
          ctx.textBaseline = 'alphabetic';
          ctx.textAlign = 'left';
          ctx.font = `21px ${FONT}`;
          const wBase = ctx.measureText(pValueBase).width;
          ctx.font = `15px ${FONT}`;
          const wExp = ctx.measureText(pValueExp).width;
          const cx = (x1 + x2) / 2;
          const left = cx - (wBase + wExp) / 2;
          ctx.font = `21px ${FONT}`;
          ctx.fillText(pValueBase, left, a.top + 27.5);
          ctx.font = `15px ${FONT}`;
          ctx.fillText(pValueExp, left + wBase, a.top + 20);
          ctx.restore();
          drawText(ctx, 'CFR (log scale)', 22.3, 137.5, 20, { rotate: true });
          drawText(ctx, 'DHS signal', 362.5, 313.3, 21);
          drawText(ctx, 'c', 17, 12, 23, { bold: true });
        },
      },
    ],
  });
}

export default function App() {
  const refA = useRef<HTMLCanvasElement>(null);
  const refB = useRef<HTMLCanvasElement>(null);
  const refC = useRef<HTMLCanvasElement>(null);
  useEffect(() => {
    document.body.style.margin = '0';
    const charts = [makeA(refA.current!), makeB(refB.current!), makeC(refC.current!)];
    return () => charts.forEach((c) => c.destroy());
  }, []);
  return (
    <div style={{ position: 'relative', width: 635, height: 1614, background: '#fff', overflow: 'hidden' }}>
      <canvas ref={refA} width={635} height={660} style={{ position: 'absolute', left: 0, top: 0 }} />
      <canvas ref={refB} width={635} height={623} style={{ position: 'absolute', left: 0, top: 690 }} />
      <canvas ref={refC} width={635} height={324} style={{ position: 'absolute', left: 0, top: 1290 }} />
    </div>
  );
}
